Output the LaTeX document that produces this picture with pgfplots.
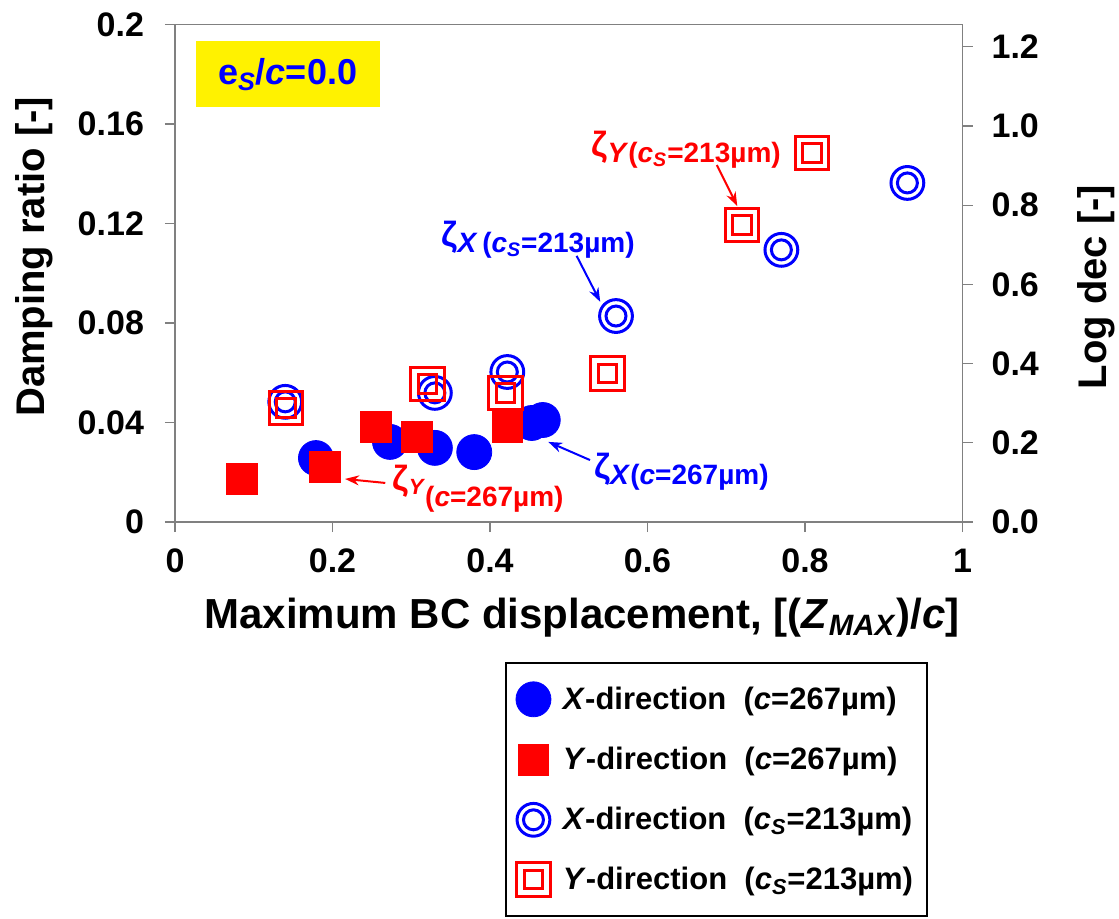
\documentclass[border=0pt]{standalone}
\usepackage{fontspec}
\setmainfont{Liberation Sans}
\usepackage{pgfplots}
\pgfplotsset{compat=1.18}
\usetikzlibrary{arrows.meta}

% double ring marker
\pgfdeclareplotmark{dcircle}{%
  \pgfpathcircle{\pgfpointorigin}{8.2pt}%
  \pgfpathcircle{\pgfpointorigin}{5.0pt}%
  \pgfusepathqstroke}
% double square marker, outer square with rounded corners
\pgfdeclareplotmark{dsquare}{%
  \pgfsetcornersarced{\pgfpoint{2.5pt}{2.5pt}}%
  \pgfpathmoveto{\pgfpoint{0pt}{-8.4pt}}%
  \pgfpathlineto{\pgfpoint{8.4pt}{-8.4pt}}%
  \pgfpathlineto{\pgfpoint{8.4pt}{8.4pt}}%
  \pgfpathlineto{\pgfpoint{-8.4pt}{8.4pt}}%
  \pgfpathlineto{\pgfpoint{-8.4pt}{-8.4pt}}%
  \pgfpathlineto{\pgfpoint{0pt}{-8.4pt}}%
  \pgfpathclose
  \pgfsetcornersarced{\pgfpointorigin}%
  \pgfpathrectanglecorners{\pgfpoint{-4.6pt}{-4.6pt}}{\pgfpoint{4.6pt}{4.6pt}}%
  \pgfusepathqstroke}

\pgfplotstableread{
x y
0.179 0.0257
0.273 0.0322
0.330 0.0298
0.380 0.0281
0.453 0.0398
0.467 0.0410
}\xdirc

\pgfplotstableread{
x y
0.085 0.0173
0.190 0.0221
0.255 0.0382
0.307 0.0342
0.422 0.0382
}\ydirc

\pgfplotstableread{
x y
0.140 0.0483
0.330 0.0519
0.422 0.0603
0.560 0.0828
0.770 0.1094
0.930 0.1363
}\xdircs

\pgfplotstableread{
x y
0.141 0.0458
0.321 0.0555
0.420 0.0519
0.549 0.0598
0.720 0.1194
0.809 0.1483
}\ydircs

\newcommand{\tickfont}{\bfseries\fontsize{17}{17}\selectfont}
\newcommand{\xlabfont}{\bfseries\fontsize{21}{21}\selectfont}
\newcommand{\ylabfont}{\bfseries\fontsize{20}{20}\selectfont}
\newcommand{\annfont}{\bfseries\fontsize{14}{14}\selectfont}
\newcommand{\zetafont}{\bfseries\fontsize{17.5}{17.5}\selectfont}
\newcommand{\legsp}{\hspace{4pt}}
\newcommand{\legpad}{\hspace{10pt}}

\begin{document}
\begin{tikzpicture}
\begin{axis}[
  scale only axis,
  width=393.75pt, height=248.75pt,
  xmin=0, xmax=1, ymin=0, ymax=0.2,
  xtick={0,0.2,0.4,0.6,0.8,1},
  xticklabels={0,0.2,0.4,0.6,0.8,1},
  ytick={0,0.04,0.08,0.12,0.16,0.2},
  yticklabels={0,0.04,0.08,0.12,0.16,0.2},
  scaled ticks=false,
  tick pos=left,
  tick align=outside,
  major tick length=5pt,
  axis line style={gray, line width=0.6pt},
  tick style={gray, line width=0.6pt},
  ticklabel style={font=\tickfont},
  xticklabel style={yshift=-5pt},
  yticklabel style={xshift=-7pt},
  xlabel={Maximum BC displacement, [(\textit{Z}\textsubscript{\textit{MAX}})/\textit{c}]},
  ylabel={Damping ratio [-]},
  xlabel style={font=\xlabfont, at={(rel axis cs:0.517,-0.193)}, anchor=center},
  ylabel style={font=\ylabfont, at={(rel axis cs:-0.179,0.533)}, anchor=center},
  legend style={
    at={(rel axis cs:0.419,-0.281)}, anchor=north west,
    draw=black, line width=1pt,
    font=\bfseries\fontsize{15.5}{15.5}\selectfont,
    row sep=13.2pt, inner xsep=5pt, inner ysep=9.5pt,
  },
  legend cell align=left,
  clip=false,
]
\addplot[only marks, mark=*, mark size=8.75pt,
  mark options={draw=blue, fill=blue, line width=0.4pt}]
  table[x=x, y=y] {\xdirc};
\addlegendentry{\legsp\textit{X}-direction\ \ (\textit{c}=267µm)\legpad}

\addplot[only marks, mark=square*, mark size=7.7pt,
  mark options={draw=red, fill=red, line width=0.4pt}]
  table[x=x, y=y] {\ydirc};
\addlegendentry{\legsp\textit{Y}-direction\ \ (\textit{c}=267µm)\legpad}

\addplot[only marks, mark=dcircle,
  mark options={draw=blue, line width=1.5pt}]
  table[x=x, y=y] {\xdircs};
\addlegendentry{\legsp\textit{X}-direction\ \ (\textit{c}\textsubscript{\textit{S}}=213µm)\legpad}

\addplot[only marks, mark=dsquare,
  mark options={draw=red, line width=1.5pt}]
  table[x=x, y=y] {\ydircs};
\addlegendentry{\legsp\textit{Y}-direction\ \ (\textit{c}\textsubscript{\textit{S}}=213µm)\legpad}

% case label
\node[fill=yellow, text=blue, minimum width=92pt, minimum height=33pt,
  font=\bfseries\fontsize{18}{18}\selectfont]
  at (axis cs:0.143,0.1799)
  {e\textsubscript{\textit{S}}/\textit{c}=0.0};

% annotations
\node[text=blue, anchor=center] at (axis cs:0.461,0.1134)
  {\zetafont ζ\raisebox{-3pt}{\annfont\textit{X}\,(\textit{c}\textsubscript{\textit{S}}=213µm)}};
\draw[blue, line width=1pt, -{Stealth[length=7pt,width=5pt]}]
  (axis cs:0.510,0.1070) -- (axis cs:0.540,0.0885);

\node[text=red, anchor=center] at (axis cs:0.649,0.1496)
  {\zetafont ζ\raisebox{-3pt}{\annfont\textit{Y}(\textit{c}\textsubscript{\textit{S}}=213µm)}};
\draw[red, line width=1pt, -{Stealth[length=7pt,width=5pt]}]
  (axis cs:0.688,0.1435) -- (axis cs:0.714,0.1270);

\node[text=blue, anchor=center] at (axis cs:0.643,0.0201)
  {\zetafont ζ\raisebox{-3pt}{\annfont\textit{X}(\textit{c}=267µm)}};
\draw[blue, line width=1pt, -{Stealth[length=7pt,width=5pt]}]
  (axis cs:0.527,0.0249) -- (axis cs:0.474,0.0322);

\node[text=red, anchor=center] at (axis cs:0.385,0.0135)
  {\zetafont ζ\raisebox{-2pt}{\bfseries\fontsize{11}{11}\selectfont\textit{Y}}\raisebox{-8pt}{\annfont(\textit{c}=267µm)}};
\draw[red, line width=1pt, -{Stealth[length=7pt,width=5pt]}]
  (axis cs:0.267,0.0157) -- (axis cs:0.216,0.0173);

\coordinate (bbsw) at (rel axis cs:-0.2222,-0.7960);
\coordinate (bbne) at (rel axis cs:1.1987,1.0492);
\end{axis}

\begin{axis}[
  scale only axis,
  width=393.75pt, height=248.75pt,
  xmin=0, xmax=1, ymin=0, ymax=1.2566,
  axis x line=none,
  axis y line*=right,
  ytick={0,0.2,0.4,0.6,0.8,1.0,1.2},
  yticklabels={0.0,0.2,0.4,0.6,0.8,1.0,1.2},
  scaled ticks=false,
  tick align=outside,
  major tick length=5pt,
  axis line style={gray, line width=0.6pt},
  tick style={gray, line width=0.6pt},
  yticklabel style={font=\tickfont, xshift=6pt},
  ylabel={Log dec [-]},
  ylabel style={font=\ylabfont, at={(rel axis cs:1.1695,0.472)}, anchor=center},
]
\end{axis}

\pgfresetboundingbox
\path[use as bounding box] (bbsw) rectangle (bbne);
\end{tikzpicture}
\end{document}
